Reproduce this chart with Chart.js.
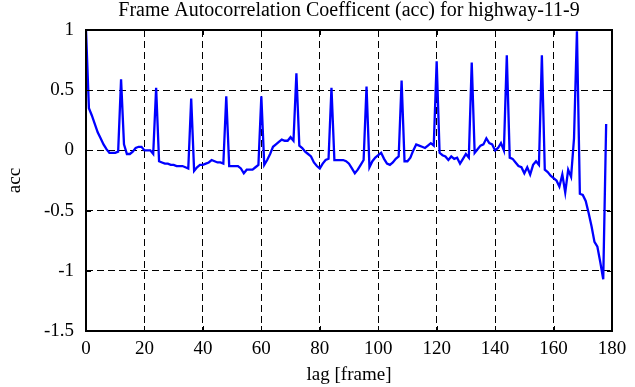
<!DOCTYPE html>
<html>
<head>
<meta charset="utf-8">
<script src="https://cdn.jsdelivr.net/npm/chart.js@4"></script>
<style>
html, body { margin: 0; padding: 0; background: #fff; }
#wrap { width: 635px; height: 387px; }
</style>
</head>
<body>
<div id="wrap"><canvas id="acc"></canvas></div>
<script>
// acc value for each lag, lag 0 .. 178
const accValues = [
    1.00, 0.35, 0.29, 0.22, 0.15, 0.10, 0.05, 0.01, -0.02, -0.02,
    -0.02, -0.01, 0.59, 0.05, -0.03, -0.03, -0.01, 0.02, 0.03, 0.03,
    0.00, 0.00, 0.00, -0.03, 0.52, -0.09, -0.10, -0.11, -0.11, -0.12,
    -0.12, -0.13, -0.13, -0.13, -0.14, -0.15, 0.43, -0.17, -0.14, -0.12,
    -0.12, -0.11, -0.10, -0.08, -0.09, -0.10, -0.10, -0.11, 0.45, -0.13,
    -0.13, -0.13, -0.13, -0.15, -0.19, -0.16, -0.16, -0.16, -0.14, -0.12,
    0.45, -0.12, -0.08, -0.03, 0.03, 0.05, 0.07, 0.09, 0.08, 0.08,
    0.11, 0.08, 0.64, 0.04, 0.02, -0.01, -0.03, -0.05, -0.10, -0.13,
    -0.15, -0.11, -0.08, -0.07, 0.52, -0.08, -0.08, -0.08, -0.08, -0.09,
    -0.11, -0.15, -0.19, -0.16, -0.12, -0.08, 0.53, -0.14, -0.09, -0.06,
    -0.04, -0.02, -0.07, -0.11, -0.12, -0.10, -0.07, -0.05, 0.58, -0.09,
    -0.09, -0.06, 0.00, 0.05, 0.04, 0.03, 0.02, 0.04, 0.06, 0.04,
    0.74, -0.02, -0.04, -0.05, -0.08, -0.05, -0.07, -0.06, -0.11, -0.07,
    -0.03, -0.06, 0.73, -0.02, 0.01, 0.04, 0.05, 0.10, 0.06, 0.05,
    0.00, 0.02, 0.06, 0.00, 0.79, -0.06, -0.07, -0.10, -0.13, -0.14,
    -0.19, -0.14, -0.20, -0.12, -0.09, -0.12, 0.79, -0.16, -0.18, -0.21,
    -0.23, -0.25, -0.30, -0.20, -0.35, -0.16, -0.22, 0.10, 0.99, -0.36,
    -0.37, -0.42, -0.52, -0.63, -0.76, -0.80, -0.93, -1.07, 0.22
];
const xTicks = [0, 20, 40, 60, 80, 100, 120, 140, 160, 180];
const yTicks = [-1.5, -1, -0.5, 0, 0.5, 1];
const titleText = 'Frame Autocorrelation Coefficent (acc) for highway-11-9';
const xTitle = 'lag [frame]';
const yTitle = 'acc';

const serif = '"Liberation Serif", "Times New Roman", serif';

// title centred over the plot box, like the original
const plotTitle = {
    id: 'plotTitle',
    afterDraw(chart) {
        const { ctx, chartArea } = chart;
        ctx.save();
        ctx.font = '20px ' + serif;
        ctx.fillStyle = '#000';
        ctx.textAlign = 'center';
        ctx.textBaseline = 'middle';
        ctx.fillText(titleText, (chartArea.left + chartArea.right) / 2, 11);
        ctx.restore();
    }
};

// box round the plot plus short inward ticks on all four sides
const boxTicks = {
    id: 'boxTicks',
    afterDraw(chart) {
        const { ctx, chartArea: a, scales } = chart;
        const len = 5;
        ctx.save();
        ctx.strokeStyle = '#000';
        ctx.lineWidth = 1;
        ctx.beginPath();
        xTicks.forEach(v => {
            const px = Math.round(scales.x.getPixelForValue(v)) + 0.5;
            ctx.moveTo(px, a.bottom); ctx.lineTo(px, a.bottom - len);
            ctx.moveTo(px, a.top); ctx.lineTo(px, a.top + len);
        });
        yTicks.forEach(v => {
            const py = Math.round(scales.y.getPixelForValue(v)) + 0.5;
            ctx.moveTo(a.left, py); ctx.lineTo(a.left + len, py);
            ctx.moveTo(a.right, py); ctx.lineTo(a.right - len, py);
        });
        ctx.stroke();
        ctx.lineWidth = 2;
        ctx.strokeRect(a.left, a.top, a.right - a.left, a.bottom - a.top);
        ctx.restore();
    }
};

const gridColor = (c, ticks) => {
    const v = c.tick.value;
    return (v === ticks[0] || v === ticks[ticks.length - 1]) ? 'rgba(0,0,0,0)' : '#000';
};

new Chart(document.getElementById('acc'), {
    type: 'line',
    data: {
        datasets: [{
            data: accValues.map((v, i) => ({ x: i, y: v })),
            borderColor: '#0000ff',
            borderWidth: 2.3,
            pointRadius: 0,
            tension: 0,
            fill: false
        }]
    },
    options: {
        responsive: true,
        maintainAspectRatio: false,
        animation: false,
        events: [],
        layout: { padding: { top: 30, right: 23, left: 0, bottom: 0 } },
        plugins: {
            legend: { display: false },
            title: { display: false },
            tooltip: { enabled: false }
        },
        scales: {
            x: {
                type: 'linear',
                min: 0,
                max: 180,
                afterBuildTicks: s => { s.ticks = xTicks.map(v => ({ value: v })); },
                afterFit: s => { s.height = 56; },
                ticks: {
                    color: '#000',
                    font: { family: serif, size: 19 },
                    padding: 7,
                    maxRotation: 0,
                    callback: v => String(v)
                },
                grid: {
                    color: c => gridColor(c, xTicks),
                    lineWidth: 1,
                    drawTicks: false
                },
                border: { display: false, dash: [7, 4] },
                title: {
                    display: true,
                    text: xTitle,
                    color: '#000',
                    font: { family: serif, size: 19 },
                    padding: { top: 0, bottom: 1 }
                }
            },
            y: {
                min: -1.5,
                max: 1,
                afterBuildTicks: s => { s.ticks = yTicks.map(v => ({ value: v })); },
                afterFit: s => { s.width = 86; },
                ticks: {
                    color: '#000',
                    font: { family: serif, size: 19 },
                    padding: 12,
                    callback: v => String(v)
                },
                grid: {
                    color: c => gridColor(c, yTicks),
                    lineWidth: 1,
                    drawTicks: false
                },
                border: { display: false, dash: [7, 4] },
                title: {
                    display: true,
                    text: yTitle,
                    color: '#000',
                    font: { family: serif, size: 19 },
                    padding: { top: 4, bottom: 0 }
                }
            }
        }
    },
    plugins: [plotTitle, boxTicks]
});
</script>
</body>
</html>
